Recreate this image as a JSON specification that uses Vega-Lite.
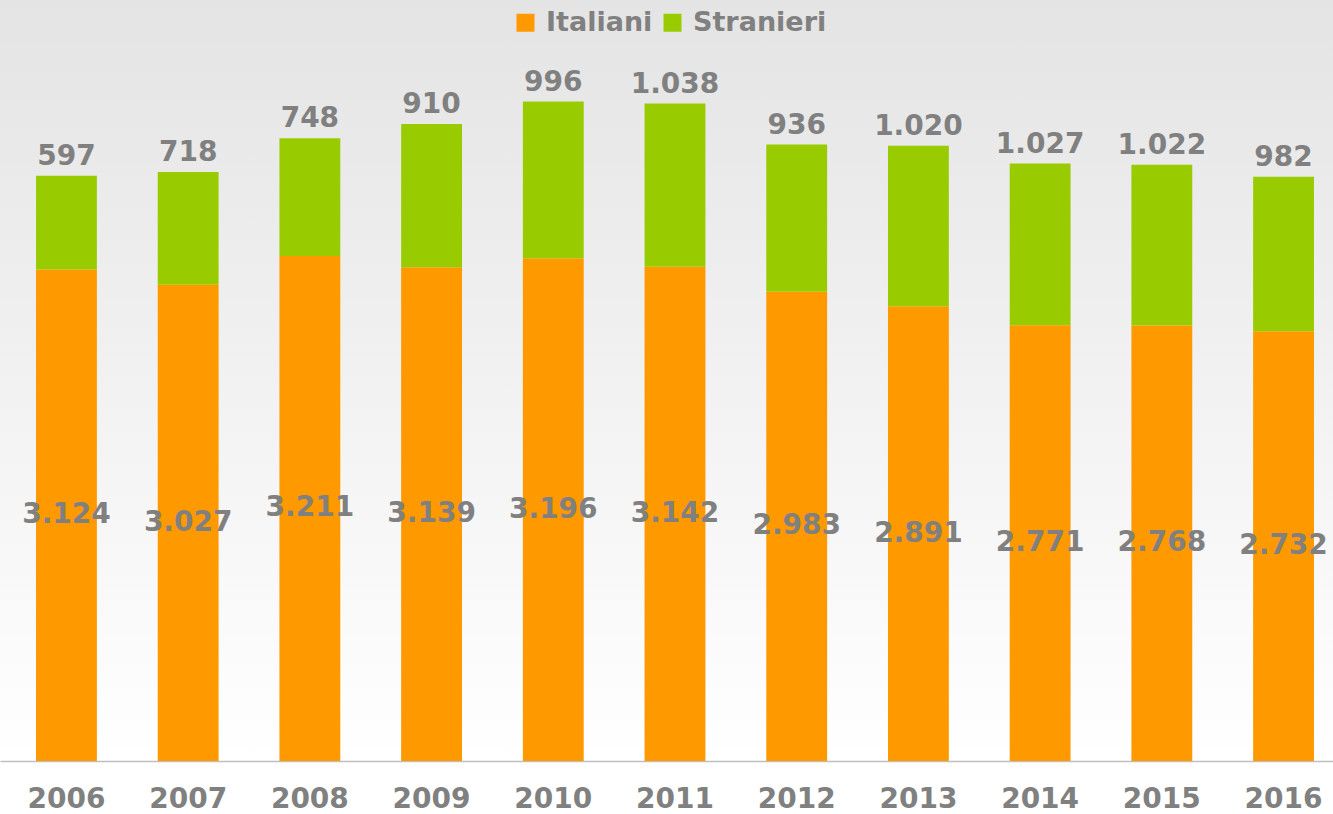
{
  "$schema": "https://vega.github.io/schema/vega-lite/v6.json",
  "autosize": {"type": "none"},
  "padding": {"top": 0, "left": 0, "right": 0, "bottom": 53},
  "width": 1333,
  "height": 761,
  "background": "#ffffff",
  "config": {
    "locale": {"number": {"decimal": ",", "thousands": ".", "grouping": [3], "currency": ["€", ""]}},
    "view": {
      "stroke": null,
      "fill": {"gradient": "linear", "x1": 0, "y1": 0, "x2": 0, "y2": 1, "stops": [{"offset": 0, "color": "#e4e4e4"}, {"offset": 1, "color": "#ffffff"}]}
    },
    "font": "DejaVu Sans"
  },
  "data": {
    "values": [
      {"Anno": "2006", "Serie": "Italiani", "Valore": 3124},
      {"Anno": "2006", "Serie": "Stranieri", "Valore": 597},
      {"Anno": "2007", "Serie": "Italiani", "Valore": 3027},
      {"Anno": "2007", "Serie": "Stranieri", "Valore": 718},
      {"Anno": "2008", "Serie": "Italiani", "Valore": 3211},
      {"Anno": "2008", "Serie": "Stranieri", "Valore": 748},
      {"Anno": "2009", "Serie": "Italiani", "Valore": 3139},
      {"Anno": "2009", "Serie": "Stranieri", "Valore": 910},
      {"Anno": "2010", "Serie": "Italiani", "Valore": 3196},
      {"Anno": "2010", "Serie": "Stranieri", "Valore": 996},
      {"Anno": "2011", "Serie": "Italiani", "Valore": 3142},
      {"Anno": "2011", "Serie": "Stranieri", "Valore": 1038},
      {"Anno": "2012", "Serie": "Italiani", "Valore": 2983},
      {"Anno": "2012", "Serie": "Stranieri", "Valore": 936},
      {"Anno": "2013", "Serie": "Italiani", "Valore": 2891},
      {"Anno": "2013", "Serie": "Stranieri", "Valore": 1020},
      {"Anno": "2014", "Serie": "Italiani", "Valore": 2771},
      {"Anno": "2014", "Serie": "Stranieri", "Valore": 1027},
      {"Anno": "2015", "Serie": "Italiani", "Valore": 2768},
      {"Anno": "2015", "Serie": "Stranieri", "Valore": 1022},
      {"Anno": "2016", "Serie": "Italiani", "Valore": 2732},
      {"Anno": "2016", "Serie": "Stranieri", "Valore": 982}
    ]
  },
  "encoding": {
    "x": {
      "field": "Anno",
      "type": "ordinal",
      "scale": {"range": [0, 1350], "paddingInner": 0.5, "paddingOuter": 0.296},
      "axis": {
        "title": null,
        "labelAngle": 0,
        "ticks": false,
        "domainColor": "#bfbfbf",
        "domainWidth": 1.5,
        "labelFont": "DejaVu Sans",
        "labelFontSize": 28,
        "labelFontWeight": "bold",
        "labelColor": "#808080",
        "labelPadding": 24
      }
    },
    "y": {
      "field": "Valore",
      "type": "quantitative",
      "stack": "zero",
      "scale": {"domain": [0, 4838], "nice": false, "zero": true},
      "axis": null
    },
    "order": {"field": "Serie", "sort": "ascending"}
  },
  "layer": [
    {
      "mark": {"type": "bar"},
      "encoding": {
        "color": {
          "field": "Serie",
          "type": "nominal",
          "scale": {"domain": ["Italiani", "Stranieri"], "range": ["#ff9900", "#99cc00"]},
          "legend": {
            "title": null,
            "orient": "none",
            "direction": "horizontal",
            "legendX": 512,
            "legendY": 9,
            "padding": 0,
            "symbolType": "square",
            "symbolSize": 324,
            "symbolStrokeWidth": 0,
            "labelOffset": 7,
            "columnPadding": 6,
            "labelFont": "DejaVu Sans",
            "labelFontSize": 27,
            "labelFontWeight": "bold",
            "labelColor": "#808080"
          }
        }
      }
    },
    {
      "mark": {"type": "text", "font": "DejaVu Sans", "fontSize": 28, "fontWeight": "bold", "color": "#808080", "baseline": "middle"},
      "encoding": {
        "detail": {"field": "Serie"},
        "y": {"field": "Valore", "type": "quantitative", "stack": "zero", "bandPosition": 0.5},
        "text": {"condition": {"test": "datum.Serie === 'Italiani'", "field": "Valore", "type": "quantitative", "format": ",d"}, "value": ""}
      }
    },
    {
      "mark": {"type": "text", "font": "DejaVu Sans", "fontSize": 28, "fontWeight": "bold", "color": "#808080", "baseline": "middle", "dy": -19},
      "encoding": {
        "detail": {"field": "Serie"},
        "text": {"condition": {"test": "datum.Serie === 'Stranieri'", "field": "Valore", "type": "quantitative", "format": ",d"}, "value": ""}
      }
    }
  ]
}
